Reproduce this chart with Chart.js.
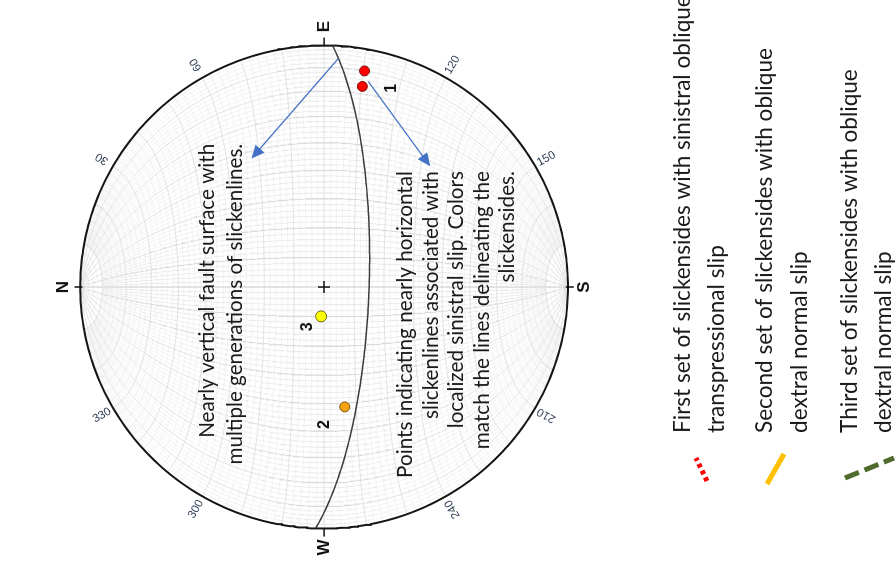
<!DOCTYPE html>
<html>
<head>
<meta charset="utf-8">
<script src="https://cdn.jsdelivr.net/npm/chart.js@4.4.1/dist/chart.umd.min.js"></script>
<style>
  html, body { margin: 0; padding: 0; background: #fff; width: 896px; height: 576px; overflow: hidden; }
  /* the net is laid out with north up, then the whole figure is turned a quarter turn */
  #wrap { position: absolute; left: 0; top: 0; width: 576px; height: 896px;
          transform-origin: 0 0; transform: translate(0, 576px) rotate(-90deg); }
  canvas { display: block; }
</style>
</head>
<body>
<div id="wrap"><canvas id="net" width="576" height="896"></canvas></div>
<script>
// ---- data -------------------------------------------------------------
// fault plane (right-hand rule strike, dip)
const faultStrike = 92;
const faultDip = 75;

// slickenline lineations, trend / plunge in degrees (lower hemisphere)
const set1Trend = [100.5, 100.7];
const set1Plunge = [9.9, 16.6];
const set2Trend = [260.3];
const set2Plunge = [48.3];
const set3Trend = [275.7];
const set3Plunge = [80.1];

// primitive labels
const cardinalAz = [0, 90, 180, 270];
const cardinalText = ['N', 'E', 'S', 'W'];
const azimuthTicks = [30, 60, 120, 150, 210, 240, 300, 330];

// notes and legend wording
const noteFault = ['Nearly vertical fault surface with', 'multiple generations of slickenlines.'];
const noteSlip = ['Points indicating nearly horizontal', 'slickenlines associated with',
                  'localized sinistral slip. Colors', 'match the lines delineating the', 'slickensides.'];
const legendText = [
  ['First set of slickensides with sinistral oblique', 'transpressional slip'],
  ['Second set of slickensides with oblique', 'dextral normal slip'],
  ['Third set of slickensides with oblique', 'dextral normal slip']
];
const setLabels = ['1', '2', '3'];

// ---- equal-area (Schmidt) lower-hemisphere projection ------------------
const rad = Math.PI / 180;
function project(e, n, d) {
  if (d < 0) { e = -e; n = -n; d = -d; }
  const k = 1 / Math.sqrt(1 + d);
  return { x: e * k, y: n * k };
}
function projLine(trend, plunge) {
  const t = trend * rad, p = plunge * rad;
  return project(Math.cos(p) * Math.sin(t), Math.cos(p) * Math.cos(t), Math.sin(p));
}
function planeCurve(strike, dip) {
  const s = strike * rad, dd = (strike + 90) * rad, d = dip * rad;
  const sv = [Math.sin(s), Math.cos(s), 0];
  const dv = [Math.sin(dd) * Math.cos(d), Math.cos(dd) * Math.cos(d), Math.sin(d)];
  const pts = [];
  for (let a = 0; a <= 180; a += 1) {
    const c = Math.cos(a * rad), si = Math.sin(a * rad);
    pts.push(project(c * sv[0] + si * dv[0], c * sv[1] + si * dv[1], c * sv[2] + si * dv[2]));
  }
  return pts;
}

// net grid: meridians (great circles through N and S) and small circles about the N-S axis
const gridSets = [];
for (let d = 2; d <= 178; d += 2) {
  const major = d % 10 === 0;
  const t0 = major ? 0 : 10, t1 = major ? 180 : 170;
  const pts = [];
  for (let t = t0; t <= t1; t += 1) {
    const st = Math.sin(t * rad);
    pts.push(project(st * Math.cos(d * rad), Math.cos(t * rad), st * Math.sin(d * rad)));
  }
  gridSets.push({ pts, major });
}
for (let a = 2; a <= 178; a += 2) {
  const major = a % 10 === 0;
  const pts = [];
  for (let p = 0; p <= 180; p += 1) {
    const sa = Math.sin(a * rad);
    pts.push(project(sa * Math.cos(p * rad), Math.cos(a * rad), sa * Math.sin(p * rad)));
  }
  gridSets.push({ pts, major });
}
const primitive = [];
for (let a = 0; a <= 360; a += 1) primitive.push({ x: Math.sin(a * rad), y: Math.cos(a * rad) });

const toPts = (tr, pl) => tr.map((t, i) => projLine(t, pl[i]));

// ---- decorations drawn on the net --------------------------------------
const notes = {
  fault: { x: 0.593, y: 0.478, step: -0.113, lines: noteFault, width: 294 },
  slip:  { x: 0.480, y: -0.335, step: -0.1045, lines: noteSlip, width: 307 }
};
const setLabelPos = [{ x: 0.823, y: -0.278 }, { x: -0.569, y: -0.004 }, { x: -0.165, y: 0.069 }];
const arrows = [
  { from: { x: 0.948, y: -0.060 }, to: { x: 0.532, y: 0.298 } },
  { from: { x: 0.851, y: -0.181 }, to: { x: 0.500, y: -0.435 } }
];
const textFace = 'Lato, "Open Sans", sans-serif';

// font size that makes a line of text run to a given width
function fitSize(ctx, text, width) {
  ctx.font = '20px ' + textFace;
  return 20 * width / ctx.measureText(text).width;
}

const netDecor = {
  id: 'netDecor',
  afterDatasetsDraw(chart) {
    const { ctx } = chart;
    const sx = chart.scales.x, sy = chart.scales.y;
    const px = v => sx.getPixelForValue(v), py = v => sy.getPixelForValue(v);
    const cx = px(0), cy = py(0), R = px(1) - cx;
    ctx.save();

    // cardinal ticks and letters
    ctx.strokeStyle = '#111'; ctx.lineWidth = 1.5;
    ctx.fillStyle = '#111';
    ctx.font = 'bold 17px "Liberation Sans", Arial, sans-serif';
    ctx.textAlign = 'center'; ctx.textBaseline = 'middle';
    cardinalAz.forEach((az, i) => {
      const s = Math.sin(az * rad), c = Math.cos(az * rad);
      ctx.beginPath();
      ctx.moveTo(cx + s * R, cy - c * R);
      ctx.lineTo(cx + s * (R + 8), cy - c * (R + 8));
      ctx.stroke();
      ctx.fillText(cardinalText[i], cx + s * (R + 19), cy - c * (R + 19));
    });

    // azimuth labels round the primitive
    ctx.font = '11.5px "Liberation Sans", Arial, sans-serif';
    ctx.fillStyle = '#2e3d55';
    azimuthTicks.forEach(az => {
      const s = Math.sin(az * rad), c = Math.cos(az * rad);
      let rot = az - 90;
      if (rot > 90) rot -= 180;
      ctx.save();
      ctx.translate(cx + s * (R + 15), cy - c * (R + 15));
      ctx.rotate(rot * rad);
      ctx.fillText(String(az), 0, 0);
      ctx.restore();
    });

    // arrows
    ctx.strokeStyle = '#4472c4'; ctx.fillStyle = '#4472c4'; ctx.lineWidth = 1.3;
    arrows.forEach(a => {
      const x0 = px(a.from.x), y0 = py(a.from.y), x1 = px(a.to.x), y1 = py(a.to.y);
      const ang = Math.atan2(y1 - y0, x1 - x0);
      const L = 13, W = 6;
      ctx.beginPath(); ctx.moveTo(x0, y0);
      ctx.lineTo(x1 - Math.cos(ang) * L * 0.8, y1 - Math.sin(ang) * L * 0.8); ctx.stroke();
      ctx.beginPath();
      ctx.moveTo(x1, y1);
      ctx.lineTo(x1 - Math.cos(ang) * L - Math.sin(ang) * W, y1 - Math.sin(ang) * L + Math.cos(ang) * W);
      ctx.lineTo(x1 - Math.cos(ang) * L + Math.sin(ang) * W, y1 - Math.sin(ang) * L - Math.cos(ang) * W);
      ctx.closePath(); ctx.fill();
    });

    // set numbers
    ctx.fillStyle = '#111';
    ctx.font = 'bold 16px "Liberation Sans", Arial, sans-serif';
    setLabels.forEach((t, i) => ctx.fillText(t, px(setLabelPos[i].x), py(setLabelPos[i].y)));

    // notes
    Object.values(notes).forEach(n => {
      const size = fitSize(ctx, n.lines[0], n.width);
      ctx.font = size.toFixed(2) + 'px ' + textFace;
      ctx.fillStyle = '#1a1a1a';
      ctx.textAlign = 'right'; ctx.textBaseline = 'middle';
      n.lines.forEach((t, i) => ctx.fillText(t, px(n.x), py(n.y + n.step * i)));
    });
    ctx.restore();
  }
};

// legend below the net (the long first line runs off the edge)
const legendPlugin = {
  id: 'slickLegend',
  afterDraw(chart) {
    const { ctx } = chart;
    ctx.save();
    const size = fitSize(ctx, legendText[1][0], 385);
    ctx.font = size.toFixed(2) + 'px ' + textFace;
    ctx.fillStyle = '#1a1a1a';
    ctx.textAlign = 'left'; ctx.textBaseline = 'middle';
    const rows = [[683, 717], [765, 800], [850, 884]];
    legendText.forEach((lines, i) => lines.forEach((t, j) => ctx.fillText(t, 143, rows[i][j])));

    ctx.lineCap = 'butt';
    // first set: red dotted
    ctx.strokeStyle = '#ff0000'; ctx.lineWidth = 5; ctx.setLineDash([4, 3.5]);
    ctx.beginPath(); ctx.moveTo(95, 707); ctx.lineTo(118, 696); ctx.stroke();
    // second set: amber solid
    ctx.strokeStyle = '#ffc000'; ctx.lineWidth = 5; ctx.setLineDash([]);
    ctx.beginPath(); ctx.moveTo(92, 767); ctx.lineTo(122, 784); ctx.stroke();
    // third set: dark green dashed
    ctx.strokeStyle = '#4f6b2d'; ctx.lineWidth = 5; ctx.setLineDash([15, 6]);
    ctx.beginPath(); ctx.moveTo(98, 845); ctx.lineTo(118, 894); ctx.stroke();
    ctx.restore();
  }
};

// ---- chart --------------------------------------------------------------
const cx0 = 289, cy0 = 322, R0 = 248, W0 = 576, H0 = 896;
const datasets = [
  { label: 'Set 1', data: toPts(set1Trend, set1Plunge), pointRadius: 5, pointBackgroundColor: '#ff0000',
    pointBorderColor: '#7a1010', pointBorderWidth: 1, order: 0 },
  { label: 'Set 2', data: toPts(set2Trend, set2Plunge), pointRadius: 5, pointBackgroundColor: '#f5a313',
    pointBorderColor: '#7a5208', pointBorderWidth: 1, order: 0 },
  { label: 'Set 3', data: toPts(set3Trend, set3Plunge), pointRadius: 5.5, pointBackgroundColor: '#ffff00',
    pointBorderColor: '#6b6b1a', pointBorderWidth: 1, order: 0 },
  { label: 'Centre', data: [{ x: 0, y: 0 }], pointStyle: 'cross', pointRadius: 6, pointBorderColor: '#111',
    pointBorderWidth: 1.5, order: 0 },
  { label: 'Fault plane', data: planeCurve(faultStrike, faultDip), showLine: true, pointRadius: 0,
    borderColor: '#3c3c3c', borderWidth: 1.5, order: 1 },
  { label: 'Primitive', data: primitive, showLine: true, pointRadius: 0, borderColor: '#151515',
    borderWidth: 2, order: 2 }
];
gridSets.forEach(g => datasets.push({
  data: g.pts, showLine: true, pointRadius: 0, borderWidth: g.major ? 0.8 : 0.6,
  borderColor: g.major ? '#dadada' : '#ebebeb', order: g.major ? 3 : 4
}));

new Chart(document.getElementById('net'), {
  type: 'scatter',
  data: { datasets },
  options: {
    responsive: false, maintainAspectRatio: false, animation: false, devicePixelRatio: 1,
    events: [],
    layout: { padding: 0 },
    plugins: { legend: { display: false }, tooltip: { enabled: false } },
    scales: {
      x: { type: 'linear', display: false, min: -cx0 / R0, max: (W0 - cx0) / R0 },
      y: { type: 'linear', display: false, min: -(H0 - cy0) / R0, max: cy0 / R0 }
    }
  },
  plugins: [netDecor, legendPlugin]
});
</script>
</body>
</html>
